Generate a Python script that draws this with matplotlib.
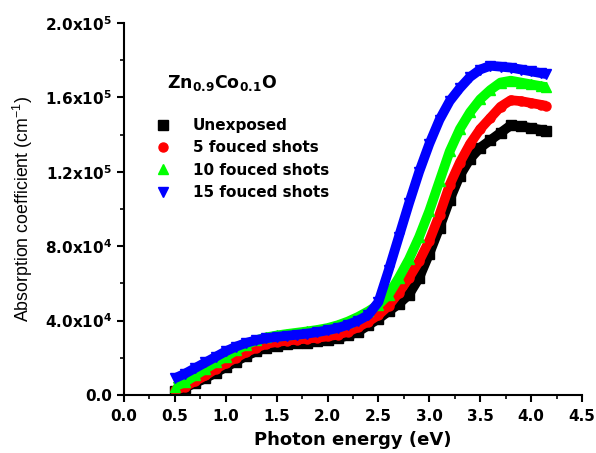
import matplotlib
matplotlib.use('Agg')
import matplotlib.pyplot as plt
from matplotlib.lines import Line2D
from matplotlib.ticker import MultipleLocator

plt.rcParams['font.family'] = 'Liberation Sans'
plt.rcParams['mathtext.fontset'] = 'custom'
plt.rcParams['mathtext.rm'] = 'Liberation Sans'
plt.rcParams['mathtext.bf'] = 'DejaVu Sans:bold'

energy = [0.5, 0.6, 0.7, 0.8, 0.9, 1.0, 1.1, 1.2, 1.3, 1.4, 1.5, 1.6, 1.7, 1.8, 1.9,
          2.0, 2.1, 2.2, 2.3, 2.4, 2.5, 2.6, 2.7, 2.8, 2.9, 3.0, 3.1, 3.2, 3.3, 3.4,
          3.5, 3.6, 3.7, 3.8, 3.9, 4.0, 4.1, 4.15]

unexposed = [2000, 4000, 6500, 9000, 12000, 15000, 18000, 21000, 23500, 25500, 26500,
             27200, 27700, 28200, 28800, 29500, 30500, 32000, 34000, 37500, 41000, 45000,
             49000, 54000, 63000, 76000, 90000, 105000, 118000, 127000, 133000, 137000,
             141000, 145000, 144500, 143500, 142500, 142000]
shots5 = [2500, 4500, 7500, 10500, 14000, 17000, 20000, 23000, 25500, 27500, 28500,
          29200, 29800, 30300, 30800, 31500, 32500, 34000, 36500, 39500, 43000, 48000,
          55000, 63000, 72000, 83000, 97000, 113000, 125000, 135000, 143000, 149000,
          155000, 158500, 158000, 157000, 156000, 155500]
shots10 = [4500, 7000, 10500, 14000, 17500, 20500, 24000, 27000, 29500, 31000, 32000,
           32800, 33500, 34200, 35000, 36000, 37500, 39500, 42000, 45000, 48500, 54000,
           63000, 73000, 85000, 99000, 115000, 131000, 143000, 152000, 159000, 164000,
           168000, 169000, 168000, 167000, 166000, 165500]
shots15 = [9000, 11500, 14500, 17500, 20500, 23500, 26000, 28000, 29500, 30500, 31200,
           31800, 32400, 33000, 33800, 34800, 36000, 37800, 40000, 43000, 50000, 67000,
           85000, 103000, 120000, 135000, 148000, 158000, 165000, 171000, 175000, 177000,
           176500, 176000, 175000, 174000, 173000, 172500]

series = [(unexposed, 'Unexposed', 'black', 's'),
          (shots5, '5 fouced shots', 'red', 'o'),
          (shots10, '10 fouced shots', '#00ff00', '^'),
          (shots15, '15 fouced shots', 'blue', 'v')]

yticks = [0, 40000, 80000, 120000, 160000, 200000]
ytick_labels = ['0.0', r'4.0x10$^{\mathbf{4}}$', r'8.0x10$^{\mathbf{4}}$',
                r'1.2x10$^{\mathbf{5}}$', r'1.6x10$^{\mathbf{5}}$', r'2.0x10$^{\mathbf{5}}$']

bold = {'family': 'DejaVu Sans', 'weight': 'bold'}

fig = plt.figure(figsize=(5.96, 4.53), dpi=100)
ax = fig.add_axes([124/596, 1-395/453, 458/596, 372/453])

handles = []
for vals, lab, col, mk in series:
    ax.plot(energy, vals, color=col, lw=7, solid_capstyle='butt')
    ax.plot(energy, vals, ls='none', marker=mk, ms=6.5, color=col, mec=col)
    handles.append(Line2D([], [], ls='none', marker=mk, ms=6.5, color=col, label=lab))

ax.set_xlim(0, 4.5)
ax.set_ylim(0, 200000)
ax.xaxis.set_major_locator(MultipleLocator(0.5))
ax.xaxis.set_minor_locator(MultipleLocator(0.25))
ax.set_yticks(yticks)
ax.set_yticklabels(ytick_labels)
ax.yaxis.set_minor_locator(MultipleLocator(20000))
for s in ['top', 'right']:
    ax.spines[s].set_visible(False)
for s in ['left', 'bottom']:
    ax.spines[s].set_linewidth(1.5)
ax.tick_params(which='major', direction='out', length=5, width=1.5, labelsize=11)
ax.tick_params(axis='x', which='major', pad=5)
ax.tick_params(which='minor', direction='out', length=3, width=1.2)
for t in ax.get_xticklabels() + ax.get_yticklabels():
    t.set_fontfamily('DejaVu Sans')
    t.set_fontweight('bold')

ax.set_xlabel('Photon energy (eV)', fontsize=13, labelpad=5, **bold)
ax.set_ylabel(r'Absorption coefficient (cm$^{\mathrm{-1}}$)', fontsize=12.8, labelpad=7)

ax.text(0.42, 168000, r'Zn$_{\mathbf{0.9}}$Co$_{\mathbf{0.1}}$O', fontsize=12.5,
        va='center', **bold)

leg = ax.legend(handles=handles, loc='upper left', bbox_to_anchor=(0.069, 0.745),
                frameon=False, prop={'family': 'DejaVu Sans', 'weight': 'bold', 'size': 11},
                handlelength=1.0, handletextpad=1.45, labelspacing=0.49, borderpad=0,
                borderaxespad=0)

fig.savefig('out.png', dpi=100)
